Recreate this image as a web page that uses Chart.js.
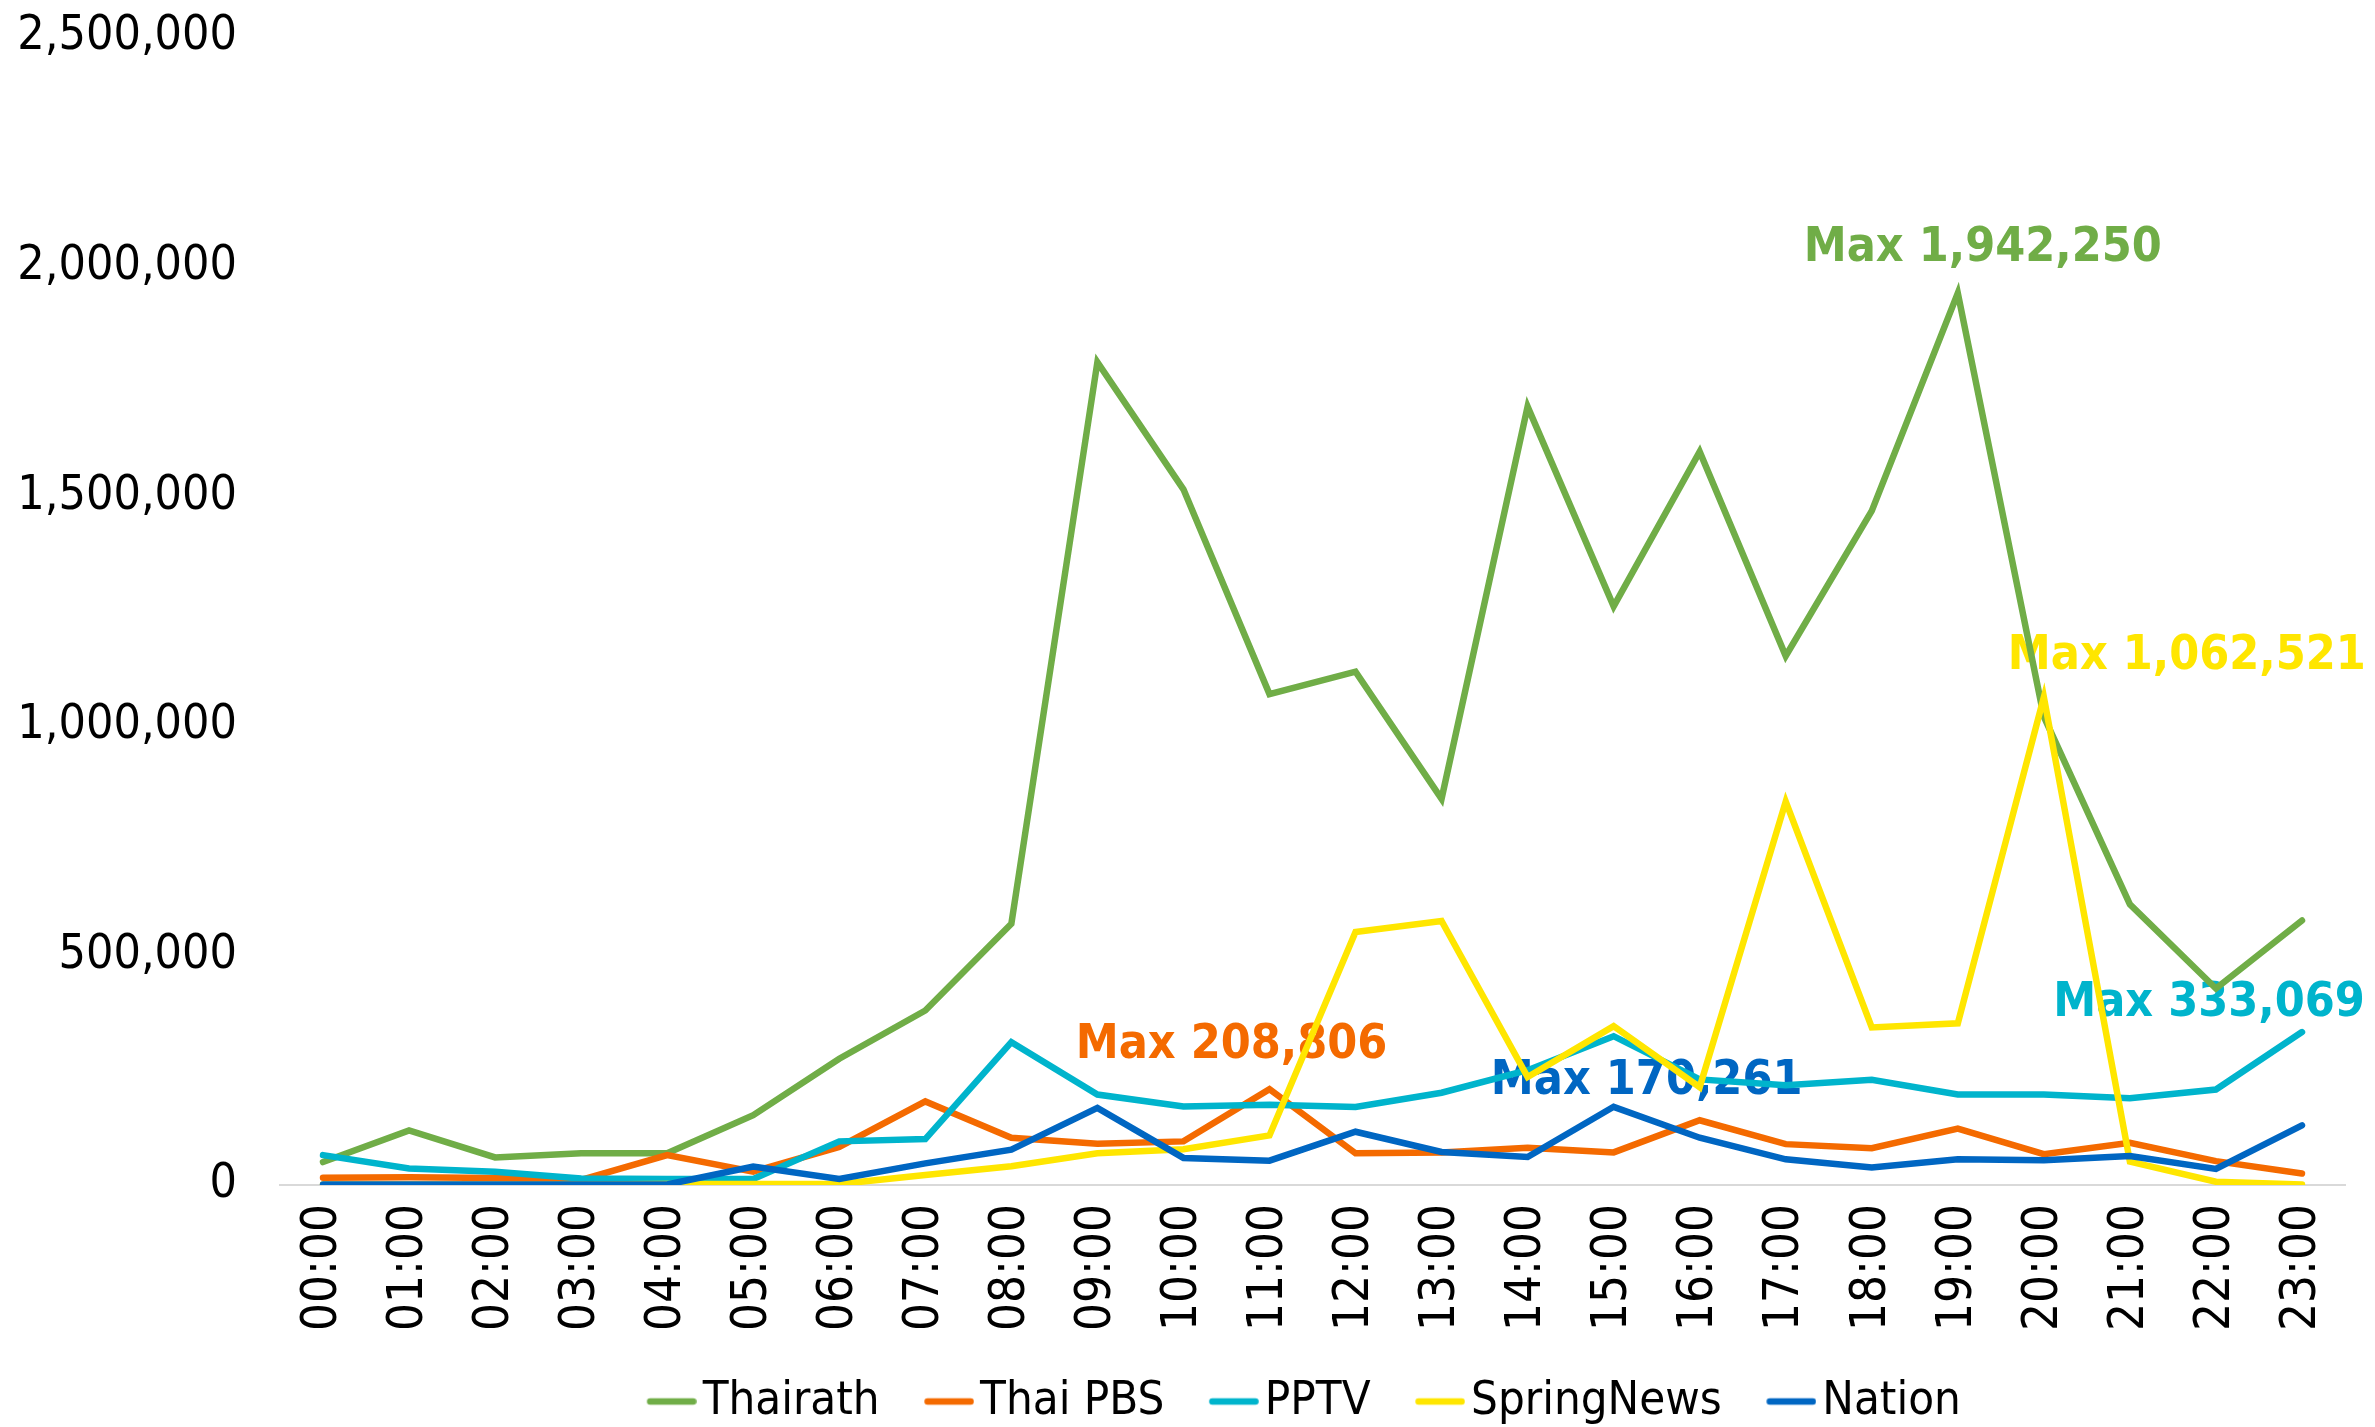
<!DOCTYPE html>
<html>
<head>
<meta charset="utf-8">
<script src="https://cdn.jsdelivr.net/npm/chart.js@4/dist/chart.umd.min.js"></script>
<style>
  html, body { margin: 0; padding: 0; background: #fff; }
  #wrap { width: 2375px; height: 1427px; }
</style>
</head>
<body>
<div id="wrap"><canvas id="chart" width="2375" height="1427"></canvas></div>
<script>
// ข้อมูล (ค่าอ่านจากภาพ)
const hours = ['00:00','01:00','02:00','03:00','04:00','05:00','06:00','07:00','08:00','09:00','10:00','11:00',
               '12:00','13:00','14:00','15:00','16:00','17:00','18:00','19:00','20:00','21:00','22:00','23:00'];
const seriesNames = ['Thairath', 'Thai PBS', 'PPTV', 'SpringNews', 'Nation'];
const thairath   = [50000,119000,60000,69000,69000,152000,275000,380000,569000,1792000,1515000,1069000,
                    1118000,841000,1695000,1260000,1597000,1152000,1468000,1942250,1020000,611000,428000,576000];
const thaiPbs    = [16000,17000,15000,11000,65000,29000,83000,182000,103000,90000,95000,208806,
                    69000,71000,81000,71000,141000,89000,80000,123000,67000,92000,52000,25000];
const pptv       = [65000,36000,29000,14000,13000,13000,95000,100000,311000,197000,171000,175000,
                    170000,201000,250000,324000,230000,217000,229000,197000,197000,189000,208000,333069];
const springNews = [1000,1000,1000,1000,2000,2000,2000,22000,41000,69000,78000,108000,
                    551000,575000,235000,346000,213000,835000,343000,352000,1062521,51000,7000,1000];
const nation     = [1000,1000,1000,1000,1000,40000,13000,47000,77000,168000,59000,53000,
                    116000,72000,61000,170261,103000,56000,38000,56000,54000,63000,35000,130000];
const yTicks = [0, 500000, 1000000, 1500000, 2000000, 2500000];

const colors = ['#70AD47', '#F46A00', '#00B4CC', '#FFE600', '#0066C2'];
const FONT = "'DejaVu Sans Condensed', 'DejaVu Sans', sans-serif";

// ตำแหน่งป้าย Max (ระยะห่างจากจุดสูงสุด, px)
const maxLabelOffsets = [[25, -45], [-38, -44], [-93, -29], [143, -41], [33, -25]];

// เส้นสั้นสำหรับ legend (ครึ่งซ้ายโปร่งใส เพื่อเว้นระยะระหว่างรายการ)
function legendLine(color) {
    const c = document.createElement('canvas');
    c.width = 92;
    c.height = 10;
    const g = c.getContext('2d');
    g.strokeStyle = color;
    g.lineWidth = 6.5;
    g.lineCap = 'round';
    g.beginPath();
    g.moveTo(45.5, 5);
    g.lineTo(88.5, 5);
    g.stroke();
    return c;
}

const maxLabelPlugin = {
    id: 'maxLabels',
    afterLayout(chart) {
        // เลื่อน legend ให้อยู่กลางเหมือนต้นฉบับ
        if (chart.legend) {
            chart.legend.left -= 21;
            chart.legend.right -= 21;
        }
    },
    beforeDatasetsDraw(chart) {
        const ctx = chart.ctx;
        ctx.save();
        ctx.font = 'bold 48px ' + FONT;
        ctx.textAlign = 'center';
        ctx.textBaseline = 'middle';
        chart.data.datasets.forEach((ds, i) => {
            let idx = 0;
            ds.data.forEach((v, j) => { if (v > ds.data[idx]) idx = j; });
            const pt = chart.getDatasetMeta(i).data[idx];
            ctx.fillStyle = colors[i];
            ctx.fillText('Max ' + ds.data[idx].toLocaleString('en-US'),
                pt.x + maxLabelOffsets[i][0], pt.y + maxLabelOffsets[i][1]);
        });
        ctx.restore();
    }
};

const allData = [thairath, thaiPbs, pptv, springNews, nation];

new Chart(document.getElementById('chart'), {
    type: 'line',
    data: {
        labels: hours,
        datasets: allData.map((d, i) => ({
            label: seriesNames[i],
            data: d,
            borderColor: colors[i],
            backgroundColor: colors[i],
            borderWidth: 6.5,
            borderCapStyle: 'round',
            borderJoinStyle: 'miter',
            pointRadius: 0,
            pointStyle: legendLine(colors[i]),
            tension: 0,
            order: 5 - i
        }))
    },
    options: {
        responsive: false,
        animation: false,
        layout: { padding: { top: 37, right: 30, left: 0, bottom: -8 } },
        plugins: {
            tooltip: { enabled: false },
            legend: {
                position: 'bottom',
                fullSize: false,
                labels: {
                    usePointStyle: true,
                    pointStyleWidth: 57,
                    padding: 20,
                    color: '#000',
                    font: { family: FONT, size: 47 },
                    sort: (a, b) => a.datasetIndex - b.datasetIndex
                }
            }
        },
        scales: {
            x: {
                offset: true,
                grid: { display: false, drawTicks: false },
                border: { display: true, color: '#D9D9D9', width: 2 },
                ticks: {
                    minRotation: 90, maxRotation: 90, autoSkip: false,
                    padding: 19, color: '#000',
                    font: { family: FONT, size: 49 }
                },
                afterFit: s => { s.height = 173; s.paddingLeft = 0; s.paddingRight = 0; }
            },
            y: {
                min: 0, max: 2500000,
                grid: { display: false, drawTicks: false },
                border: { display: false },
                afterBuildTicks: s => { s.ticks = yTicks.map(v => ({ value: v })); },
                ticks: {
                    padding: 43, color: '#000',
                    font: { family: FONT, size: 48 },
                    callback: v => v.toLocaleString('en-US')
                },
                afterFit: s => { s.width = 280; s.paddingTop = 0; s.paddingBottom = 0; }
            }
        }
    },
    plugins: [maxLabelPlugin]
});
</script>
</body>
</html>
